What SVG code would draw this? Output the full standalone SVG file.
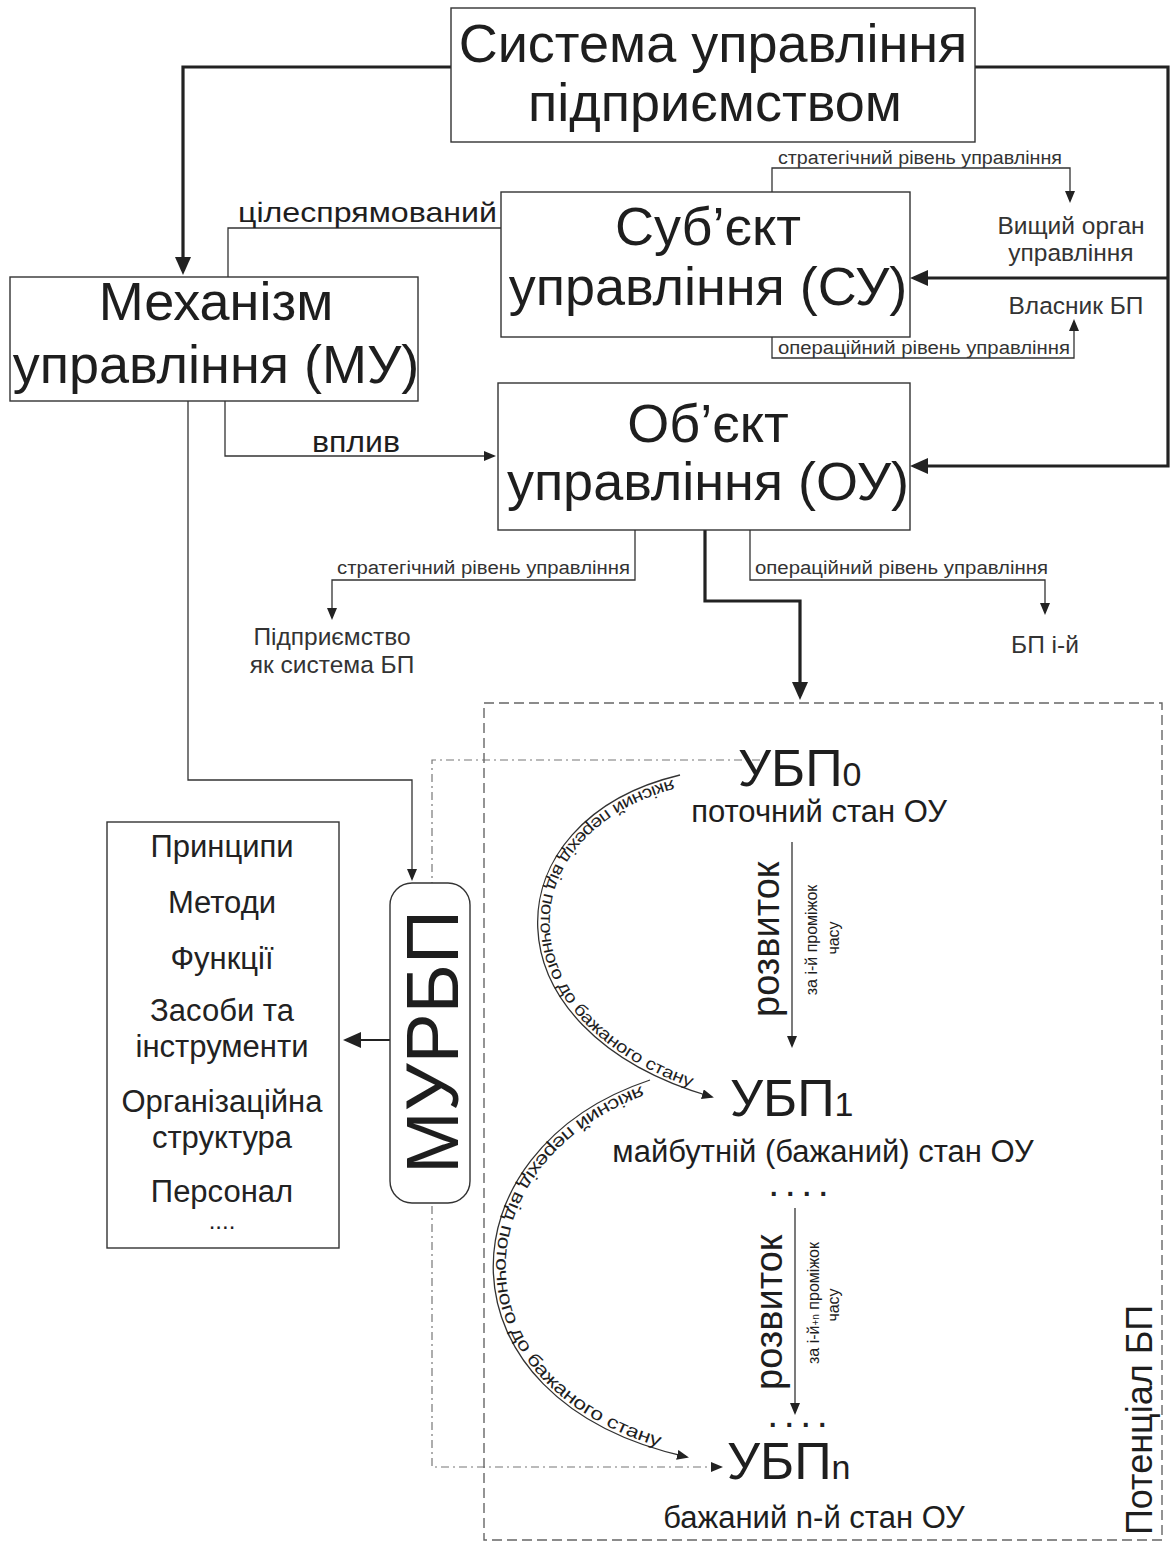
<svg xmlns="http://www.w3.org/2000/svg" width="1170" height="1544" viewBox="0 0 1170 1544">
<style>
text{font-family:"Liberation Sans",Arial,sans-serif;fill:#1e1e1e}
.box{fill:#fff;stroke:#333;stroke-width:1.4}
.thick{fill:none;stroke:#222;stroke-width:3.2}
.thin{fill:none;stroke:#333;stroke-width:1.3}
.mid{fill:none;stroke:#222;stroke-width:2.2}
.dash{fill:none;stroke:#666;stroke-width:1.4;stroke-dasharray:10 5}
.dd{fill:none;stroke:#777;stroke-width:1.2;stroke-dasharray:8 4 2 4}
.big{font-size:54px}
.lab{font-size:18px;fill:#333}
.sm{font-size:24.5px;fill:#333}
.lst{font-size:31px;text-anchor:middle;fill:#222}
.m{text-anchor:middle}
.dots{font-size:27px;font-weight:bold;text-anchor:middle;letter-spacing:9px;fill:#222}
</style>
<defs>
<marker id="ab" markerUnits="userSpaceOnUse" markerWidth="18" markerHeight="16" refX="14" refY="8" orient="auto"><path d="M0,0 L18,8 L0,16 z" fill="#222"/></marker>
<marker id="as" markerUnits="userSpaceOnUse" markerWidth="12" markerHeight="10" refX="10" refY="5" orient="auto"><path d="M0,0 L12,5 L0,10 z" fill="#222"/></marker>
<path id="c1" d="M680,775 C490,820 480,1030 712,1097"/>
<path id="c2" d="M650,1080 C440,1150 430,1400 687,1457"/>
</defs>

<g id="connectors">
<path class="thick" d="M451,67 H183 V271" marker-end="url(#ab)"/>
<path class="thick" d="M975,67 H1168 V466 H914" marker-end="url(#ab)"/>
<path class="thick" d="M1168,278 H914" marker-end="url(#ab)"/>
<path class="thick" d="M705,530 V601 H800 V696" marker-end="url(#ab)"/>
<path class="thin" d="M228,277 V228 H501"/>
<path class="thin" d="M225,401 V456 H494" marker-end="url(#as)"/>
<path class="thin" d="M188,401 V780 H412 V879" marker-end="url(#as)"/>
<path class="thin" d="M772,192 V168 H1070 V201" marker-end="url(#as)"/>
<path class="thin" d="M772,337 V358 H1074 V321" marker-end="url(#as)"/>
<path class="thin" d="M635,530 V580 H332 V618" marker-end="url(#as)"/>
<path class="thin" d="M750,530 V580 H1045 V613" marker-end="url(#as)"/>
<path class="mid" d="M390,1040 H347" marker-end="url(#ab)"/>
<path class="thin" d="M792,842 V1046" marker-end="url(#as)"/>
<path class="thin" d="M795,1208 V1413" marker-end="url(#as)"/>
<use href="#c1" class="thin" marker-end="url(#as)"/>
<use href="#c2" class="thin" marker-end="url(#as)"/>
<path class="dd" d="M760,760 H432 V1467 H721" marker-end="url(#as)"/>
<rect class="dash" x="484" y="703" width="678" height="837"/>
</g>

<g id="labels">
<text x="238" y="222" font-size="28" textLength="259" lengthAdjust="spacingAndGlyphs" fill="#333">цілеспрямований</text>
<text class="lab" x="778" y="164" textLength="284" lengthAdjust="spacingAndGlyphs">стратегічний рівень управління</text>
<text class="lab" x="778" y="354" textLength="292" lengthAdjust="spacingAndGlyphs">операційний рівень управління</text>
<text x="312" y="452" font-size="30" textLength="88" lengthAdjust="spacingAndGlyphs" fill="#333">вплив</text>
<text class="lab" x="337" y="574" textLength="293" lengthAdjust="spacingAndGlyphs">стратегічний рівень управління</text>
<text class="lab" x="755" y="574" textLength="293" lengthAdjust="spacingAndGlyphs">операційний рівень управління</text>
<text x="779" y="1017" font-size="38" transform="rotate(-90 779 1017)" fill="#222">розвиток</text>
<text font-size="16" class="m" fill="#333" transform="translate(817,940) rotate(-90)">за і-й проміжок</text>
<text font-size="16" class="m" fill="#333" transform="translate(839,938) rotate(-90)">часу</text>
<text x="782" y="1390" font-size="38" transform="rotate(-90 782 1390)" fill="#222">розвиток</text>
<text font-size="16" class="m" fill="#333" transform="translate(819,1303) rotate(-90)">за і-й<tspan font-size="10">+n</tspan> проміжок</text>
<text font-size="16" class="m" fill="#333" transform="translate(839,1305) rotate(-90)">часу</text>
<text font-size="17" fill="#222" dy="-3"><textPath href="#c1" startOffset="8" textLength="455" lengthAdjust="spacingAndGlyphs">якісний перехід від поточного до бажаного стану</textPath></text>
<text font-size="18" fill="#222" dy="-3"><textPath href="#c2" startOffset="10" textLength="515" lengthAdjust="spacingAndGlyphs">якісний перехід від поточного до бажаного стану</textPath></text>
</g>

<g id="n-top">
<rect class="box" x="451" y="8" width="524" height="134"/>
<text class="big m" x="713" y="62">Система управління</text>
<text class="big m" x="715" y="121">підприємством</text>
</g>

<g id="n-su">
<rect class="box" x="501" y="192" width="409" height="145"/>
<text class="big m" x="708" y="245">Суб’єкт</text>
<text class="big m" x="708" y="305" font-size="53">управління (СУ)</text>
</g>

<g id="n-mu">
<rect class="box" x="10" y="277" width="408" height="124"/>
<text class="big m" x="216" y="320">Механізм</text>
<text class="big m" x="216" y="383" font-size="53">управління (МУ)</text>
</g>

<g id="n-ou">
<rect class="box" x="498" y="383" width="412" height="147"/>
<text class="big m" x="708" y="442">Об’єкт</text>
<text class="big m" x="708" y="500" font-size="53">управління (ОУ)</text>
</g>

<g id="n-vyshchyi">
<text class="sm m" x="1071" y="234">Вищий орган</text>
<text class="sm m" x="1071" y="261">управління</text>
</g>
<g id="n-vlasnyk">
<text class="sm m" x="1076" y="314">Власник БП</text>
</g>
<g id="n-pidpr">
<text class="sm m" x="332" y="645">Підприємство</text>
<text class="sm m" x="332" y="673">як система БП</text>
</g>
<g id="n-bpi">
<text class="sm m" x="1045" y="653">БП і-й</text>
</g>

<g id="n-list">
<rect class="box" x="107" y="822" width="232" height="426"/>
<text class="lst" x="222" y="857">Принципи</text>
<text class="lst" x="222" y="913">Методи</text>
<text class="lst" x="222" y="969">Функції</text>
<text class="lst" x="222" y="1021">Засоби та</text>
<text class="lst" x="222" y="1057">інструменти</text>
<text class="lst" x="222" y="1112">Організаційна</text>
<text class="lst" x="222" y="1148">структура</text>
<text class="lst" x="222" y="1202">Персонал</text>
<text x="222" y="1229" font-size="24" class="m" fill="#222">....</text>
</g>

<g id="n-murbp">
<rect class="box" x="390" y="883" width="80" height="320" rx="22"/>
<text x="458" y="1174" font-size="75" textLength="264" lengthAdjust="spacingAndGlyphs" transform="rotate(-90 458 1174)" fill="#1e1e1e">МУРБП</text>
</g>

<g id="n-ubp0">
<text x="738" y="786" font-size="52">УБП<tspan font-size="34">0</tspan></text>
<text x="819" y="822" font-size="31" class="m">поточний стан ОУ</text>
</g>
<g id="n-ubp1">
<text x="730" y="1116" font-size="52">УБП<tspan font-size="34">1</tspan></text>
<text x="823" y="1162" font-size="31" class="m">майбутній (бажаний) стан ОУ</text>
<text class="dots" x="803" y="1196">....</text>
</g>
<g id="n-ubpn">
<text class="dots" x="802" y="1427">....</text>
<text x="727" y="1479" font-size="52">УБП<tspan font-size="34">n</tspan></text>
<text x="814" y="1528" font-size="31" class="m">бажаний n-й стан ОУ</text>
</g>

<g id="n-potential">
<text x="1152" y="1535" font-size="36" transform="rotate(-90 1152 1535)" fill="#222">Потенціал БП</text>
</g>
</svg>
